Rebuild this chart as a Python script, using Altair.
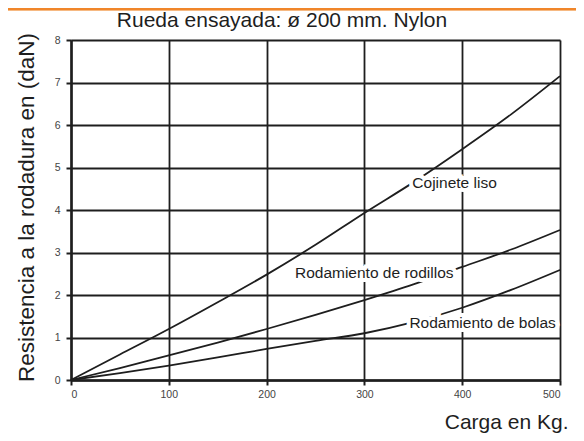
import altair as alt
import pandas as pd

carga = [0, 50, 100, 150, 200, 250, 300, 350, 400, 450, 500]
cojinete = [0, 0.6, 1.2, 1.83, 2.48, 3.18, 3.93, 4.65, 5.43, 6.25, 7.15]
rodillos = [0, 0.28, 0.58, 0.88, 1.2, 1.53, 1.88, 2.25, 2.66, 3.07, 3.53]
bolas = [0, 0.16, 0.34, 0.53, 0.73, 0.92, 1.1, 1.36, 1.7, 2.12, 2.59]
series_names = ["Cojinete liso", "Rodamiento de rodillos", "Rodamiento de bolas"]

label_text = ["Cojinete liso", "Rodamiento de rodillos", "Rodamiento de bolas"]
label_x = [349, 229, 346]
label_y = [4.64, 2.52, 1.34]

title_text = "Rueda ensayada: ø 200 mm. Nylon"

rows = []
for name, vals in zip(series_names, [cojinete, rodillos, bolas]):
    for c, v in zip(carga, vals):
        rows.append({"carga": c, "res": v, "serie": name})
df = pd.DataFrame(rows)
lab = pd.DataFrame({"t": label_text, "x": label_x, "y": label_y})
tit = pd.DataFrame({"t": [title_text]})

FONT = "Liberation Sans"
INK = "#1e1e1e"

xs = alt.X("carga:Q", scale=alt.Scale(domain=[0, 500], nice=False),
           axis=alt.Axis(values=[0, 100, 200, 300, 400, 500], title="Carga en Kg.",
                         titleX=497, titleY=48, titleAlign="right",
                         titleBaseline="alphabetic", titleFontSize=21,
                         titleFontWeight="normal", titleFont=FONT, titleColor=INK,
                         labelFontSize=10.5, labelColor="#444",
                         labelFont=FONT, grid=True, gridColor=INK, gridWidth=1.8,
                         domainColor=INK, domainWidth=2.5, tickColor=INK,
                         tickWidth=2, tickSize=5, labelPadding=4))
ys = alt.Y("res:Q", scale=alt.Scale(domain=[0, 8], nice=False),
           axis=alt.Axis(values=list(range(9)), title="Resistencia a la rodadura en (daN)",
                         titleX=-45, titleY=167, titleAlign="center",
                         titleBaseline="middle", titleAngle=270,
                         titleFontSize=22.5, titleFontWeight="normal", titleFont=FONT,
                         titleColor=INK, labelFontSize=10.5,
                         labelColor="#444", labelFont=FONT, grid=True, gridColor=INK,
                         gridWidth=1.8, domainColor=INK, domainWidth=2.5,
                         tickColor=INK, tickWidth=2, tickSize=5, labelPadding=6))

lines = alt.Chart(df).mark_line(color=INK, strokeWidth=1.8, interpolate="monotone").encode(
    x=xs, y=ys, detail="serie:N")

halo = alt.Chart(lab).mark_text(align="left", baseline="middle", fontSize=15.5, font=FONT,
                                stroke="white", strokeWidth=8, color="white").encode(
    x=alt.X("x:Q"), y=alt.Y("y:Q"), text="t:N")
txt = alt.Chart(lab).mark_text(align="left", baseline="middle", fontSize=15.5, font=FONT,
                               color=INK).encode(
    x=alt.X("x:Q"), y=alt.Y("y:Q"), text="t:N")

orange = alt.Chart(lab).mark_rule(color="#f0862a", strokeWidth=2.5, clip=False).encode(
    x=alt.value(-63), x2=alt.value(505), y=alt.value(-31))

title_mark = alt.Chart(tit).mark_text(align="center", baseline="middle", fontSize=21,
                                      font=FONT, color=INK, clip=False).encode(
    x=alt.value(211), y=alt.value(-19), text="t:N")

chart = alt.layer(lines, halo, txt, orange, title_mark).properties(
    width=489, height=340,
    autosize=alt.AutoSizeParams(type="none"),
    padding={"left": 63, "top": 32, "right": 16, "bottom": 53},
).configure_view(stroke=INK, strokeWidth=1.8).configure(background="white")

chart.save("out.html", embed_options={"renderer": "svg", "actions": False})
